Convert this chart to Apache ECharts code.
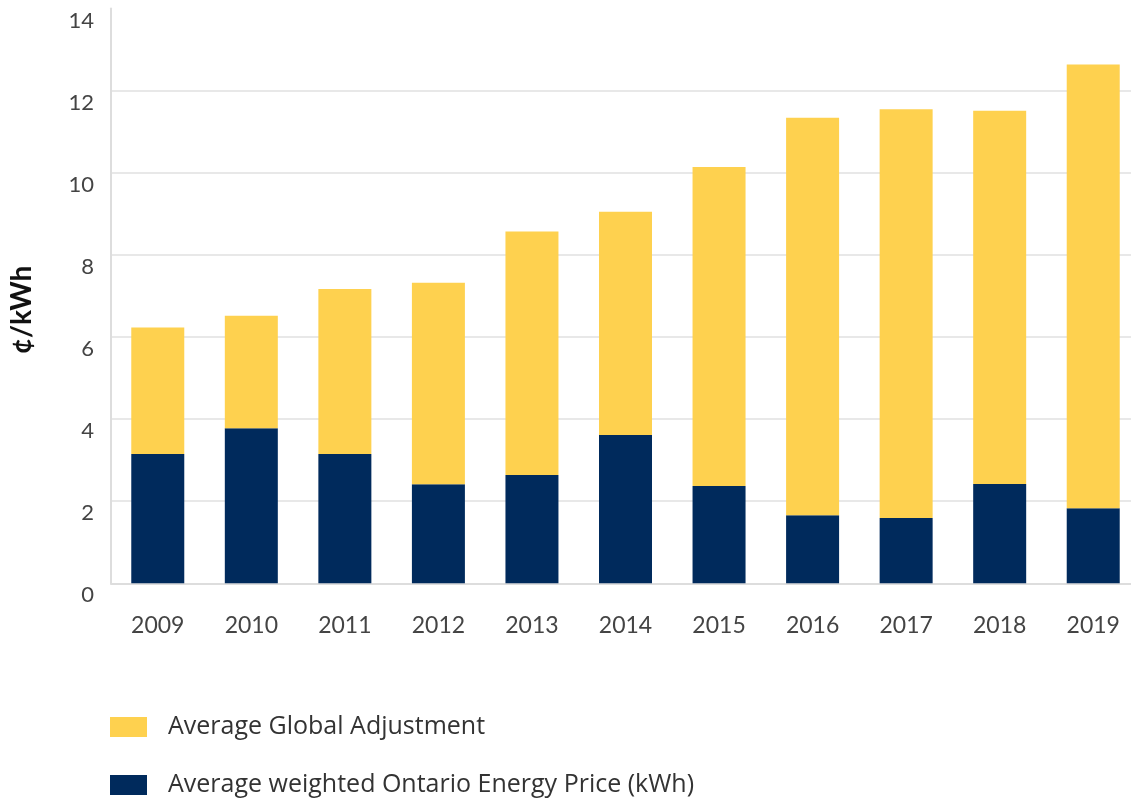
<!DOCTYPE html>
<html>
<head>
<meta charset="utf-8">
<script src="https://cdn.jsdelivr.net/npm/echarts@6/dist/echarts.min.js"></script>
<style>html,body{margin:0;padding:0;background:#fff;}#chart{width:1131px;height:802px;}</style>
</head>
<body>
<div id="chart"></div>
<script>
const years = ['2009','2010','2011','2012','2013','2014','2015','2016','2017','2018','2019'];
const energyPrice = [3.15, 3.78, 3.15, 2.41, 2.64, 3.61, 2.37, 1.66, 1.59, 2.42, 1.83];
const globalAdjustment = [3.08, 2.74, 4.02, 4.91, 5.93, 5.44, 7.77, 9.68, 9.96, 9.09, 10.81];
const yTicks = { min: 0, max: 14, interval: 2 };

const chart = echarts.init(document.getElementById('chart'), null, { renderer: 'canvas' });
const font = 'Lato, "Open Sans", sans-serif';
const legendFont = '"Open Sans", Lato, sans-serif';
chart.setOption({
  animation: false,
  backgroundColor: '#fff',
  grid: { left: 111, right: -9, top: 8.6, bottom: 218.7, containLabel: false, outerBoundsMode: 'none' },
  legend: {
    orient: 'vertical', left: 110, top: 714, padding: 0, height: 90,
    itemWidth: 37, itemHeight: 20, itemGap: 32,
    icon: 'rect',
    data: ['Average Global Adjustment', 'Average weighted Ontario Energy Price (kWh)'],
    textStyle: { fontFamily: legendFont, fontSize: 25, lineHeight: 26, color: '#333', padding: [0, 0, 0, 16] }
  },
  xAxis: {
    type: 'category', data: years,
    axisLine: { lineStyle: { color: '#dddddd', width: 2 } },
    axisTick: { show: false },
    axisLabel: { fontFamily: font, fontSize: 23, color: '#444', margin: 31 }
  },
  yAxis: {
    type: 'value', min: yTicks.min, max: yTicks.max, interval: yTicks.interval,
    name: '¢/kWh', nameLocation: 'middle', nameGap: 75, nameRotate: 90,
    nameTextStyle: { fontFamily: font, fontSize: 28, fontWeight: 'bold', color: '#111', padding: [0, 28, 0, 0] },
    axisLine: { show: true, lineStyle: { color: '#dddddd', width: 2 } },
    axisTick: { show: false },
    axisLabel: { fontFamily: font, fontSize: 22, color: '#444', margin: 17, verticalAlign: 'top', padding: [1, 0, 0, 0] },
    splitLine: { show: true, showMaxLine: false, showMinLine: false, lineStyle: { color: '#e8e8e8', width: 2 } }
  },
  series: [
    {
      name: 'Average weighted Ontario Energy Price (kWh)', type: 'bar', stack: 'total',
      data: energyPrice, barWidth: 53, itemStyle: { color: '#002A5C' }
    },
    {
      name: 'Average Global Adjustment', type: 'bar', stack: 'total',
      data: globalAdjustment, barWidth: 53, itemStyle: { color: '#FED14F' }
    }
  ]
});
</script>
</body>
</html>
